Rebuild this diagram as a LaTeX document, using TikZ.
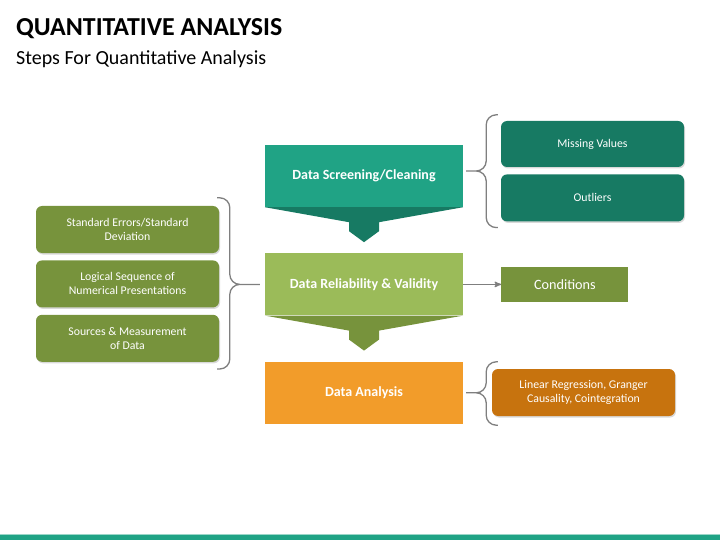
\documentclass[tikz,border=0pt]{standalone}
\usepackage{fontspec}
\setmainfont{Carlito}
\usetikzlibrary{positioning,calc,shadows,arrows}
\definecolor{tealmain}{HTML}{20A385}
\definecolor{tealdark}{HTML}{177A63}
\definecolor{greenlight}{HTML}{9BBB59}
\definecolor{olive}{HTML}{77933C}
\definecolor{orangemain}{HTML}{F29C2A}
\definecolor{orangedark}{HTML}{C7730E}
\definecolor{bracegray}{HTML}{7F7F7F}
\tikzset{
	%Define standard arrow tip
	>=stealth',
	% main step boxes
	stepbox/.style={
		rectangle,
		minimum width=198pt,
		minimum height=62pt,
		text=white,
		font=\fontsize{14}{17}\selectfont\bfseries},
	% side boxes
	sidebox/.style={
		rectangle,
		rounded corners=6pt,
		minimum width=183pt,
		minimum height=47pt,
		text=white,
		align=center,
		font=\fontsize{11.8}{14}\selectfont,
		drop shadow={opacity=0.3, shadow xshift=1pt, shadow yshift=-1.5pt}},
	% curly braces
	brace/.style={
		draw=bracegray,
		line width=1.3pt,
		rounded corners=10pt},
	% arrow style
	pil/.style={
		->,
		draw=bracegray,
		line width=1.3pt}
}

\begin{document}
\begin{tikzpicture}[x=1pt, y=-1pt, node distance=46pt]
	\useasboundingbox (0,0) rectangle (720,540);
	% title
	\node[anchor=base west, inner sep=0, font=\fontsize{25.9}{30}\selectfont\bfseries] (title) at (16,36) {QUANTITATIVE ANALYSIS};
	\node[anchor=base west, inner sep=0, font=\fontsize{20}{24}\selectfont] (subtitle) at (16,65) {Steps For Quantitative Analysis};
	% main steps
	\node[stepbox, fill=tealmain] (screen) at (364,176) {Data Screening/Cleaning};
	\node[stepbox, fill=greenlight, below=of screen] (reliab) {Data Reliability \& Validity};
	\node[stepbox, fill=orangemain, below=of reliab] (analysis) {Data Analysis};
	\foreach \b/\c in {screen/tealdark, reliab/olive}{
		\fill[\c] (\b.south west) -- (\b.south east) -- ($(\b.south)+(15,15)$) -- ($(\b.south)+(15,24)$)
			-- ($(\b.south)+(0,35)$) -- ($(\b.south)+(-15,24)$) -- ($(\b.south)+(-15,15)$) -- cycle;
	}
	% right side
	\node[sidebox, fill=tealdark, minimum height=46pt] (missing) at (592.5,144) {Missing Values};
	\node[sidebox, fill=tealdark, below=7pt of missing] (outliers) {Outliers};
	\node[rectangle, fill=olive, minimum width=127pt, minimum height=35pt, text=white,
		font=\fontsize{14.2}{17}\selectfont, right=38pt of reliab] (cond) {Conditions};
	\node[sidebox, fill=orangedark] (linreg) at (583.5,392.5) {Linear Regression, Granger\\Causality, Cointegration};
	% left side
	\node[sidebox, fill=olive] (stderr) at (127.5,229.5) {Standard Errors/Standard\\Deviation};
	\node[sidebox, fill=olive, below=7pt of stderr] (logic) {Logical Sequence of\\Numerical Presentations};
	\node[sidebox, fill=olive, below=7pt of logic] (sources) {Sources \& Measurement\\of Data};
	% braces
	\coordinate (t1) at ($(screen.east)+(3,-5)$);
	\coordinate (e1) at ($(missing.north west)+(-3,-6)$);
	\coordinate (f1) at ($(outliers.south west)+(-3,6)$);
	\draw[brace] (e1) -| ($(t1)+(20,0)$) -- (t1) (f1) -| ($(t1)+(20,0)$) -- (t1);
	\coordinate (t2) at ($(reliab.west)+(-5,0)$);
	\coordinate (e2) at ($(stderr.north east)+(-2,-8)$);
	\coordinate (f2) at ($(sources.south east)+(-2,7)$);
	\draw[brace] (e2) -| ($(t2)+(-30,0)$) -- (t2) (f2) -| ($(t2)+(-30,0)$) -- (t2);
	\coordinate (t3) at ($(analysis.east)+(3,0)$);
	\coordinate (e3) at ($(linreg.north west)+(6,-7)$);
	\coordinate (f3) at ($(linreg.south west)+(6,9)$);
	\draw[brace] (e3) -| ($(t3)+(20,0)$) -- (t3) (f3) -| ($(t3)+(20,0)$) -- (t3);
	% arrow to conditions
	\draw[pil] (reliab) -- (cond);
	% bottom bar
	\fill[tealmain!45] (0,533.5) rectangle (720,535);
	\fill[tealmain] (0,535) rectangle (720,540);
\end{tikzpicture}
\end{document}
